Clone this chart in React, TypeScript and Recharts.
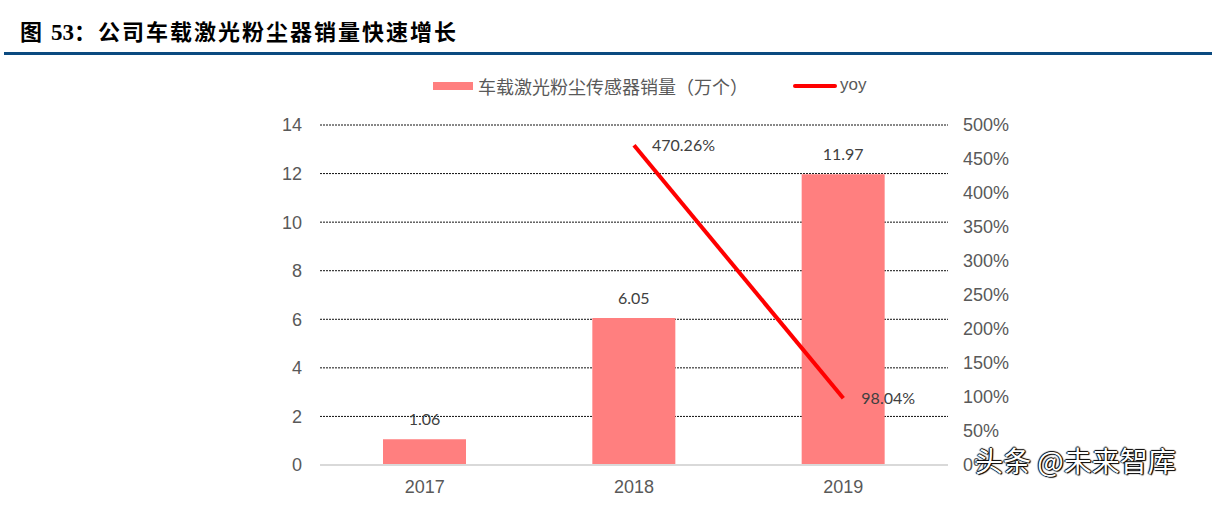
import React from 'react'
import { ComposedChart, Bar, Line, XAxis, YAxis, CartesianGrid, LabelList, ReferenceLine } from 'recharts'

const years = ['2017', '2018', '2019']
const sales = [1.06, 6.05, 11.97]
const yoy: (number | null)[] = [null, 470.26, 98.04]
const leftTicks = [0, 2, 4, 6, 8, 10, 12, 14]
const rightTicks = [0, 50, 100, 150, 200, 250, 300, 350, 400, 450, 500]

const data = years.map((year, i) => ({ year, sales: sales[i], yoy: yoy[i] }))

const axisFont = '"Liberation Sans", Arial, sans-serif'
const labelFont = 'Lato, "Open Sans", sans-serif'
const cjkFont = '"Noto Sans CJK SC", "Noto Sans", sans-serif'

// legend sits above the plot, drawn by hand
const LegendBox = () => (
  <div style={{ position: 'absolute', left: 0, top: 72, width: 1212, height: 30, fontFamily: cjkFont, fontSize: 18, color: '#595959' }}>
    <div style={{ position: 'absolute', left: 433, top: 10, width: 40, height: 8, background: '#FF7F7F' }} />
    <div style={{ position: 'absolute', left: 478, top: 0, lineHeight: '28px' }}>车载激光粉尘传感器销量（万个）</div>
    <div style={{ position: 'absolute', left: 793, top: 12, width: 44, height: 4, borderRadius: 2, background: '#FF0000' }} />
    <div style={{ position: 'absolute', left: 840, top: 0, lineHeight: '26px', fontFamily: axisFont, fontSize: 17 }}>yoy</div>
  </div>
)

const yoyLabel = (props: any) => {
  const { x, y, value } = props
  if (value == null) return null
  return (
    <text x={x + 18} y={y} dy="0.35em" fill="#404040" fontSize={16} fontFamily={labelFont}>
      {value.toFixed(2)}%
    </text>
  )
}

export default function App() {
  return (
    <div style={{ position: 'fixed', left: 0, top: 0, width: 1212, height: 514, background: '#fff' }}>
      <div
        style={{
          position: 'absolute', left: 20, top: 14, fontSize: 22, fontWeight: 700,
          fontFamily: cjkFont, color: '#000', letterSpacing: 2, whiteSpace: 'nowrap',
        }}
      >
        图 <span style={{ fontFamily: '"Liberation Serif", serif', fontSize: 23, letterSpacing: 0 }}>53</span>：公司车载激光粉尘器销量快速增长
      </div>
      <div style={{ position: 'absolute', left: 4, top: 52, width: 1208, height: 3, background: '#0B4A80' }} />

      <LegendBox />

      <div style={{ position: 'absolute', left: 0, top: 0 }}>
        <ComposedChart width={1212} height={514} data={data} margin={{ top: 125, right: 0, bottom: 19, left: 0 }}>
          <CartesianGrid yAxisId="left" vertical={false} stroke="#111" strokeDasharray="2 1" />
          <XAxis
            dataKey="year"
            tickLine={false}
            axisLine={false}
            tickSize={0}
            tickMargin={15}
            height={30}
            tick={{ fill: '#595959', fontSize: 18, fontFamily: axisFont }}
          />
          <YAxis
            yAxisId="left"
            width={320}
            domain={[0, 14]}
            ticks={leftTicks}
            axisLine={false}
            tickLine={false}
            tickSize={0}
            tickMargin={18}
            tick={{ fill: '#595959', fontSize: 18, fontFamily: axisFont }}
          />
          <YAxis
            yAxisId="right"
            orientation="right"
            width={264}
            domain={[0, 500]}
            ticks={rightTicks}
            axisLine={false}
            tickLine={false}
            tickSize={0}
            tickMargin={15}
            tickFormatter={(v) => `${v}%`}
            tick={{ fill: '#595959', fontSize: 18, fontFamily: axisFont, textAnchor: 'start' }}
          />
          {/* grey zero line over the dotted grid row */}
          <ReferenceLine yAxisId="left" y={0} stroke="#D9D9D9" strokeWidth={2} />
          <Bar yAxisId="left" dataKey="sales" fill="#FF7F7F" barSize={83} isAnimationActive={false}>
            <LabelList
              dataKey="sales"
              position="top"
              offset={14}
              fill="#404040"
              fontSize={16}
              fontFamily={labelFont}
              formatter={(v: any) => Number(v).toFixed(2)}
            />
          </Bar>
          <Line
            yAxisId="right"
            dataKey="yoy"
            stroke="#FF0000"
            strokeWidth={4}
            dot={false}
            activeDot={false}
            connectNulls={false}
            isAnimationActive={false}
          >
            <LabelList dataKey="yoy" content={yoyLabel} />
          </Line>
        </ComposedChart>
      </div>

      <div
        style={{
          position: 'absolute', left: 975, top: 440, fontSize: 28, fontFamily: cjkFont,
          color: '#fff', whiteSpace: 'nowrap',
          textShadow: '1px 1px 1px #000, -1px 0 1px #000, 0 -1px 1px #000, 1px 0 1px #000',
        }}
      >
        头条 @未来智库
      </div>
    </div>
  )
}
